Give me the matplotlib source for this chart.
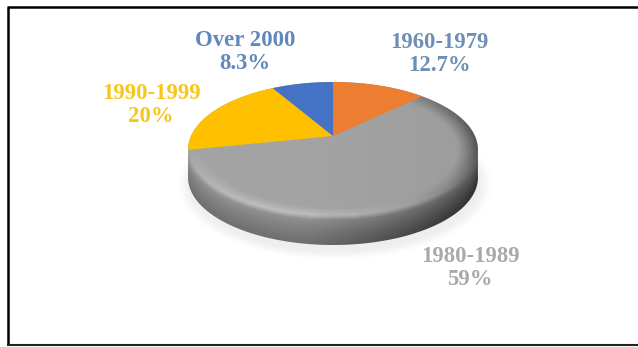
import matplotlib
matplotlib.use("Agg")
import matplotlib.pyplot as plt
import numpy as np
from matplotlib.patches import Polygon

labels = ["1960-1979", "1980-1989", "1990-1999", "Over 2000"]
shares = [12.7, 59, 20, 8.3]
share_text = ["12.7%", "59%", "20%", "8.3%"]
slice_colors = ["#ed7d31", "#a5a5a5", "#ffc000", "#4472c4"]
label_colors = ["#6d8fb5", "#a9a9a9", "#f7c61c", "#6088bd"]
label_x = [439, 470, 151, 245]
label_y = [54, 268, 105, 52]

W, H = 638, 347
cx, cy = 333, 136      # point where the slices meet
a, b, k = 142, 64.8, 0.2   # perspective of the tilted disc
depth = 28


def project(theta):
    # circle in the disc plane -> screen coordinates
    X, Y = np.cos(theta), np.sin(theta)
    w = 1 + k * Y
    return cx + a * X / w, cy - b * Y / w


def smooth(img, n):
    # box filter along both axes, softens the shading steps
    kernel = np.ones(n) / n
    img = np.apply_along_axis(lambda c: np.convolve(c, kernel, mode="same"), 0, img)
    return np.apply_along_axis(lambda c: np.convolve(c, kernel, mode="same"), 1, img)


fig = plt.figure(figsize=(W / 100, H / 100), dpi=100)
ax = fig.add_axes([0, 0, 1, 1])
ax.set_xlim(0, W)
ax.set_ylim(H, 0)
ax.axis("off")

# frame
ax.plot([8, 8], [7, 345], color="black", lw=1.8, solid_capstyle="butt")
ax.plot([7, W], [7, 7], color="black", lw=1.8, solid_capstyle="butt")
ax.plot([7, W], [345, 345], color="#222222", lw=1.5, solid_capstyle="butt")

# outline of the whole disc, top rim plus lower rim
t = np.linspace(0, 2 * np.pi, 400)
ex, ey = project(t)
upper = ey < 150
idx = np.argsort(ex[upper])
top_x, top_y = ex[upper][idx], ey[upper][idx]
low_x, low_y = ex[~upper], ey[~upper]
order = np.argsort(-low_x)
outline = np.column_stack([np.r_[top_x, low_x[order]], np.r_[top_y, low_y[order] + depth]])

# pixel grid for the shading
xx, yy = np.meshgrid(np.arange(W) + 0.5, np.arange(H) + 0.5)
u = (xx - 333) / 145
v = (yy - 150) / 67.5
e = np.sqrt(u**2 + v**2)
rim = 150 + 67.5 * np.sqrt(np.clip(1 - u**2, 0, 1))
side = np.clip((yy - rim) / depth, 0, 1)
right = np.clip((u + 0.2) / 1.2, 0, 1)

# soft shadow under the disc
v2 = (yy - 184) / 70
shadow = np.clip((1.06 - np.sqrt(((xx - 335) / 148)**2 + v2**2)) / 0.08, 0, 1) * 0.10
ax.imshow(np.dstack([np.full_like(xx, 0.35)] * 3 + [smooth(shadow, 7)]), extent=(0, W, H, 0), zorder=1, aspect="auto")

# grey body: flat top, bevel at the rim, darker side wall towards the right
top_tone = 0.64 - 0.03 * right
bevel = np.clip((e - 0.86) / 0.14, 0, 1)
front = np.clip(v / 0.8, 0, 1)
top_tone = top_tone + bevel * (0.13 * front * (1 - right) - 0.30 * right**2 * (1 - front * 0.5))
wall = 0.60 - 0.17 * side**0.7 - 0.20 * right - 0.06 * side * right
tone = np.where((yy > rim) & (yy > 150), wall, top_tone)
body = ax.imshow(smooth(tone, 5), cmap="gray", vmin=0, vmax=1, extent=(0, W, H, 0), zorder=2, aspect="auto")
clip = Polygon(outline, closed=True, transform=ax.transData, fc="none", ec="none")
ax.add_patch(clip)
body.set_clip_path(clip)

# slices, clockwise from twelve o'clock
edges = np.r_[0, np.cumsum(shares)] / sum(shares) * 2 * np.pi
for i in range(len(shares)):
    if i == 1:
        continue  # the large grey slice is the shaded body itself
    th = np.pi / 2 - np.linspace(edges[i], edges[i + 1], 60)
    px, py = project(th)
    pts = np.column_stack([np.r_[cx, px], np.r_[cy, py]])
    ax.add_patch(Polygon(pts, closed=True, fc=slice_colors[i], ec="none", zorder=3))

for i in range(len(labels)):
    ax.text(label_x[i], label_y[i], labels[i] + "\n" + share_text[i], color=label_colors[i],
            family="Liberation Serif", weight="bold", fontsize=16.4, ha="center", va="center",
            linespacing=1.12, zorder=4)

fig.savefig("out.png", dpi=100)
